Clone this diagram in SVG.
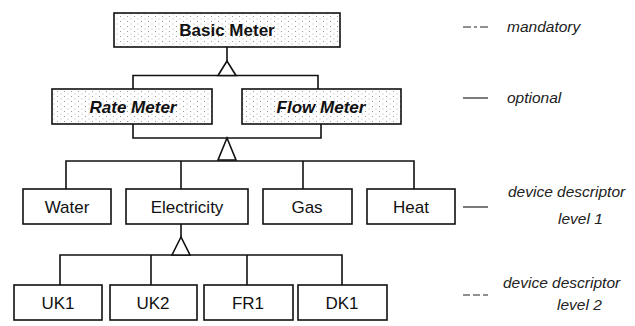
<svg xmlns="http://www.w3.org/2000/svg" width="635" height="326" viewBox="0 0 635 326">
<defs>
<pattern id="stip" width="7" height="5" patternUnits="userSpaceOnUse">
<rect width="7" height="5" fill="#ffffff"/>
<rect x="1" y="1" width="1" height="1" fill="#9a9a9a"/>
<rect x="4.5" y="3.5" width="1" height="1" fill="#b5b5b5"/>
</pattern>
</defs>
<style>
.box{fill:#fff;stroke:#111;stroke-width:1.6}
.sbox{fill:url(#stip);stroke:#111;stroke-width:1.6}
.t{font-family:"Liberation Sans",Arial,sans-serif;font-size:17px;fill:#111;text-anchor:middle}
.tb{font-weight:bold}
.ti{font-style:italic}
.lg{font-family:"Liberation Sans",Arial,sans-serif;font-size:15.5px;font-style:italic;fill:#222}
.c{fill:none;stroke:#111;stroke-width:1.6}
.tri{fill:#fff;stroke:#111;stroke-width:1.6;stroke-linejoin:miter}
.leg{stroke:#222;stroke-width:1.2}
</style>
<g id="connectors">
<line class="c" x1="227" y1="47" x2="227" y2="61"/>
<polyline class="c" points="133,89 133,75.5 318,75.5 318,89"/>
<polygon class="tri" points="227,61 218,75.5 236,75.5"/>
<polyline class="c" points="133,124 133,138 321,138 321,124"/>
<polyline class="c" points="66,189 66,161 414,161 414,189"/>
<line class="c" x1="181" y1="161" x2="181" y2="189"/>
<line class="c" x1="303" y1="161" x2="303" y2="189"/>
<polygon class="tri" points="227,138 218,160 236,160"/>
<line class="c" x1="181" y1="224" x2="181" y2="237"/>
<polyline class="c" points="60,285 60,255 342,255 342,285"/>
<line class="c" x1="151" y1="255" x2="151" y2="285"/>
<line class="c" x1="247" y1="255" x2="247" y2="285"/>
<polygon class="tri" points="181,237 172,255 190,255"/>
</g>
<g id="basic-meter"><rect class="sbox" x="114" y="13" width="226" height="34"/><text class="t tb" x="227" y="36">Basic Meter</text></g>
<g id="rate-meter"><rect class="sbox" x="52" y="89" width="160" height="35"/><text class="t tb ti" x="133" y="112.5">Rate Meter</text></g>
<g id="flow-meter"><rect class="sbox" x="242" y="89" width="159" height="35"/><text class="t tb ti" x="321" y="112.5">Flow Meter</text></g>
<g id="water"><rect class="box" x="23" y="189" width="88" height="35"/><text class="t" x="67" y="212.5">Water</text></g>
<g id="electricity"><rect class="box" x="126" y="189" width="122" height="35"/><text class="t" x="187" y="212.5">Electricity</text></g>
<g id="gas"><rect class="box" x="263" y="189" width="89" height="35"/><text class="t" x="307" y="212.5">Gas</text></g>
<g id="heat"><rect class="box" x="367" y="189" width="88" height="35"/><text class="t" x="411" y="212.5">Heat</text></g>
<g id="uk1"><rect class="box" x="14" y="285" width="88" height="35"/><text class="t" x="58" y="308.5">UK1</text></g>
<g id="uk2"><rect class="box" x="110" y="285" width="87" height="35"/><text class="t" x="153" y="308.5">UK2</text></g>
<g id="fr1"><rect class="box" x="204" y="285" width="89" height="35"/><text class="t" x="248" y="308.5">FR1</text></g>
<g id="dk1"><rect class="box" x="298" y="285" width="89" height="35"/><text class="t" x="342" y="308.5">DK1</text></g>
<g id="legend">
<line class="leg" x1="463" y1="27" x2="488" y2="27" stroke-dasharray="8,3,3,3"/>
<text class="lg" x="507" y="32">mandatory</text>
<line class="leg" x1="463" y1="98" x2="488" y2="98" stroke-width="1.6"/>
<text class="lg" x="507" y="103">optional</text>
<line class="leg" x1="463" y1="207" x2="488" y2="207"/>
<text class="lg" x="508" y="197">device descriptor</text>
<text class="lg" x="558" y="224">level 1</text>
<line class="leg" x1="463" y1="295" x2="488" y2="295" stroke-dasharray="7,3"/>
<text class="lg" x="503" y="288">device descriptor</text>
<text class="lg" x="557" y="310">level 2</text>
</g>
</svg>
